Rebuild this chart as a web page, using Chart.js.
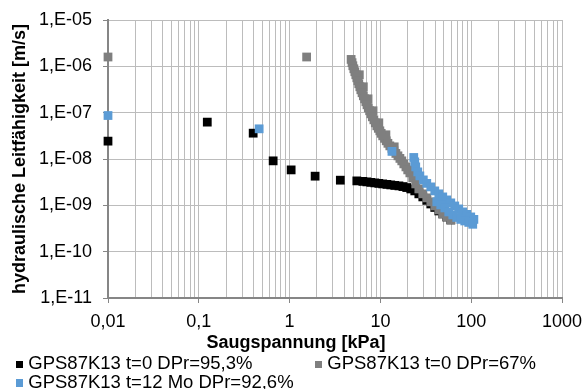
<!DOCTYPE html>
<html>
<head>
<meta charset="utf-8">
<script src="https://cdn.jsdelivr.net/npm/chart.js@4.4.0/dist/chart.umd.min.js"></script>
<style>
  body { margin: 0; background: #fff; }
  #wrap { position: relative; width: 584px; height: 389px; overflow: hidden;
    font-family: "Liberation Sans", Arial, sans-serif; color: #000; }
  #grafico { position: absolute; left: 0; top: 0; }
  #xtitel { position: absolute; left: 146px; width: 300px; top: 333px; text-align: center;
    font-size: 18px; line-height: 18px; font-weight: bold; white-space: nowrap; }
  .leg { position: absolute; font-size: 18.5px; line-height: 18px; white-space: nowrap; }
  .leg i { position: absolute; left: 0; top: 6.5px; width: 7.6px; height: 7.6px; }
  .leg span { position: absolute; left: 12.6px; top: 0; }
</style>
</head>
<body>
<div id="wrap">
  <canvas id="grafico" width="584" height="389"></canvas>
  <div id="xtitel">Saugspannung [kPa]</div>
  <div id="legende"></div>
</div>
<script>
// achsen
const xTickValues = [0.01, 0.1, 1, 10, 100, 1000];
const xTickLabels = ['0,01', '0,1', '1', '10', '100', '1000'];
const yTickValues = [1e-11, 1e-10, 1e-9, 1e-8, 1e-7, 1e-6, 1e-5];
const yTickLabels = ['1,E-11', '1,E-10', '1,E-09', '1,E-08', '1,E-07', '1,E-06', '1,E-05'];

const serien = ['GPS87K13 t=0 DPr=95,3%', 'GPS87K13 t=0 DPr=67%', 'GPS87K13 t=12 Mo DPr=92,6%'];
const farben = ['#000000', '#7f7f7f', '#5b9bd5'];

// t=0 DPr=95,3%
const dpr95_x = [0.01, 0.124, 0.397, 0.659, 1.04, 1.91, 3.62, 5.50, 6.41, 7.09, 7.85, 8.68, 9.61, 10.6, 11.8, 13.0,
  14.4, 16.0, 17.7, 19.5, 21.6, 23.9, 26.5, 29.3, 32.4, 35.9, 39.7, 44.0, 48.6, 53.8, 59.6];
const dpr95_y = [2.43e-8, 6.25e-8, 3.61e-8, 9.12e-9, 5.82e-9, 4.26e-9, 3.49e-9, 3.37e-9, 3.29e-9, 3.21e-9, 3.13e-9,
  3.05e-9, 2.98e-9, 2.90e-9, 2.83e-9, 2.76e-9, 2.69e-9, 2.63e-9, 2.54e-9, 2.42e-9, 2.26e-9, 2.05e-9, 1.77e-9,
  1.52e-9, 1.28e-9, 1.07e-9, 9.0e-10, 7.57e-10, 6.53e-10, 5.6e-10, 4.84e-10];

// t=0 DPr=67%
const dpr67_x = [0.01, 1.54, 4.76, 4.97, 5.23, 5.50, 5.78, 6.09, 6.49, 6.92, 7.36, 7.85, 8.47, 9.14, 9.86, 10.6,
  11.6, 12.7, 14.1, 15.6, 17.2, 19.1, 21.1, 22.7, 24.5, 26.5, 29.3, 32.4, 35.9, 39.7, 44.0, 48.6, 53.8, 59.6,
  5.86, 6.49, 7.31, 8.30, 9.61, 11.5, 14.2,
  4.87, 5.10, 5.36, 5.64, 5.94, 6.28, 6.70, 7.12, 7.61, 8.15, 8.79, 9.49, 10.2, 11.1, 12.1, 13.4, 14.8, 16.4,
  18.1, 20.0];
const dpr67_y = [1.59e-6, 1.59e-6, 1.41e-6, 1.03e-6, 7.64e-7, 5.66e-7, 4.21e-7, 3.12e-7, 2.31e-7, 1.72e-7, 1.27e-7,
  9.45e-8, 7.01e-8, 5.2e-8, 4.06e-8, 3.16e-8, 2.47e-8, 1.92e-8, 1.5e-8, 1.17e-8, 9.12e-9, 6.76e-9, 5.02e-9,
  3.91e-9, 2.9e-9, 2.26e-9, 1.77e-9, 1.45e-9, 1.19e-9, 9.7e-10, 7.96e-10, 6.53e-10, 5.62e-10, 4.84e-10,
  6.58e-7, 3.62e-7, 1.99e-7, 1.10e-7, 6.04e-8, 3.33e-8, 1.83e-8,
  1.20e-6, 8.86e-7, 6.58e-7, 4.88e-7, 3.62e-7, 2.69e-7, 1.99e-7, 1.48e-7, 1.10e-7, 8.14e-8, 6.04e-8, 4.59e-8,
  3.58e-8, 2.79e-8, 2.18e-8, 1.70e-8, 1.32e-8, 1.03e-8, 7.85e-9, 5.82e-9];

// t=12 Mo DPr=92,6%
const mo12_x = [0.01, 0.462, 13.4, 23.3, 23.9, 24.5, 25.8, 27.2, 29.7, 32.4, 35.9, 39.7, 44.0, 48.6, 53.8, 59.6,
  65.9, 72.9, 80.7, 89.3, 98.8, 107, 41.8, 46.2, 51.2, 56.6, 62.7, 69.3, 76.7, 84.9, 94.0, 104];
const mo12_y = [8.68e-8, 4.48e-8, 1.46e-8, 1.08e-8, 8.67e-9, 6.76e-9, 5.27e-9, 4.32e-9, 3.54e-9, 2.98e-9, 2.5e-9,
  2.05e-9, 1.77e-9, 1.52e-9, 1.31e-9, 1.13e-9, 9.7e-10, 8.37e-10, 7.21e-10, 6.37e-10, 5.62e-10, 4.97e-10,
  1.19e-9, 1.02e-9, 8.79e-10, 7.21e-10, 6.21e-10, 5.48e-10, 4.97e-10, 4.6e-10, 4.28e-10, 3.9e-10];

const achsenFarbe = '#868686';
const gitterFarbe = '#bcbcbc';
const schrift = { family: '"Liberation Sans", Arial, sans-serif', size: 18 };

function punkte(xs, ys) {
  return xs.map((x, i) => ({ x, y: ys[i] }));
}

function label(werte, labels, v) {
  const i = werte.findIndex(w => Math.abs(Math.log10(w) - Math.log10(v)) < 1e-6);
  return i < 0 ? '' : labels[i];
}

function istDekade(v) {
  return Math.abs(Math.log10(v) - Math.round(Math.log10(v))) < 1e-6;
}

const daten = [punkte(dpr95_x, dpr95_y), punkte(dpr67_x, dpr67_y), punkte(mo12_x, mo12_y)];

const datasets = serien.map((name, i) => ({
  label: name,
  data: daten[i],
  backgroundColor: farben[i],
  borderColor: farben[i],
  pointStyle: 'rect',
  pointRadius: 6.2,
  pointBorderWidth: 0,
  clip: false,
  order: 3 - i
}));

const ctx = document.getElementById('grafico').getContext('2d');
const grafico = new Chart(ctx, {
  type: 'scatter',
  data: { datasets },
  options: {
    responsive: false,
    animation: false,
    events: [],
    layout: { padding: { left: 0, right: 22, top: 20, bottom: 0 } },
    plugins: { legend: { display: false }, tooltip: { enabled: false } },
    scales: {
      x: {
        type: 'logarithmic',
        min: 0.01,
        max: 1000,
        afterBuildTicks: (s) => {
          const t = [];
          for (let e = -2; e < 3; e++) {
            for (let m = 1; m < 10; m++) t.push({ value: m * Math.pow(10, e) });
          }
          t.push({ value: 1000 });
          s.ticks = t;
        },
        afterFit: (s) => { s.height = 91; s.paddingLeft = 0; s.paddingRight = 0; },
        ticks: {
          autoSkip: false,
          maxRotation: 0,
          padding: 8,
          color: '#000',
          font: schrift,
          callback: (v) => label(xTickValues, xTickLabels, v)
        },
        grid: {
          color: gitterFarbe,
          lineWidth: 1,
          tickLength: 5,
          tickColor: (c) => (c.tick && istDekade(c.tick.value) ? achsenFarbe : 'rgba(0,0,0,0)')
        },
        border: { color: achsenFarbe, width: 2 }
      },
      y: {
        type: 'logarithmic',
        min: 1e-11,
        max: 1e-5,
        afterBuildTicks: (s) => { s.ticks = yTickValues.map(v => ({ value: v })); },
        afterFit: (s) => { s.width = 108; s.paddingTop = 0; s.paddingBottom = 0; },
        ticks: {
          autoSkip: false,
          padding: 11,
          color: '#000',
          font: schrift,
          callback: (v) => label(yTickValues, yTickLabels, v)
        },
        grid: { color: gitterFarbe, lineWidth: 1, tickLength: 5, tickColor: achsenFarbe },
        border: { color: achsenFarbe, width: 2 },
        title: {
          display: true,
          text: 'hydraulische Leitfähigkeit [m/s]',
          color: '#000',
          font: { family: schrift.family, size: 18, weight: 'bold' },
          padding: { top: 9, bottom: 0 }
        }
      }
    }
  }
});

// legende (zwei spalten wie im original)
const legPos = [[15.7, 354.3], [314.7, 354.3], [15.7, 372.7]];
const legende = document.getElementById('legende');
grafico.data.datasets.forEach((ds, i) => {
  const el = document.createElement('div');
  el.className = 'leg';
  el.style.left = legPos[i][0] + 'px';
  el.style.top = legPos[i][1] + 'px';
  el.innerHTML = '<i style="background:' + ds.backgroundColor + '"></i><span>' + ds.label + '</span>';
  legende.appendChild(el);
});
</script>
</body>
</html>
